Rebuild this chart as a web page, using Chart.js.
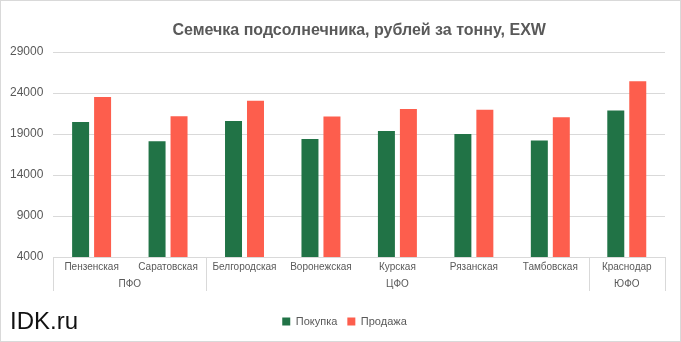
<!DOCTYPE html>
<html>
<head>
<meta charset="utf-8">
<script src="https://cdn.jsdelivr.net/npm/chart.js@4/dist/chart.umd.min.js"></script>
<style>
html,body{margin:0;padding:0;background:#fff;}
#wrap{position:relative;width:681px;height:342px;}
#brand{position:absolute;left:10px;top:307px;font:24px "Liberation Sans",Arial,sans-serif;color:#111;}
</style>
</head>
<body>
<div id="wrap"><canvas id="c"></canvas><div id="brand">IDK.ru</div></div>
<script>
const chartTitle = 'Семечка подсолнечника, рублей за тонну, EXW';
const categories = ['Пензенская','Саратовская','Белгородская','Воронежская','Курская','Рязанская','Тамбовская','Краснодар'];
const groupNames = ['ПФО','ЦФО','ЮФО'];
const groupSizes = [2,5,1];
const buyValues  = [20450,18120,20600,18400,19380,19000,18200,21880];
const sellValues = [23500,21150,23050,21120,22060,21950,21030,25440];
const yTicks = [4000,9000,14000,19000,24000,29000];

const GREY = '#595959';
const FONT = '"Liberation Sans", Arial, sans-serif';

const groupPlugin = {
  id: 'groups',
  afterLayout(chart) {
    if (chart.legend) chart.legend.left = 24;
  },
  afterDraw(chart) {
    const ctx = chart.ctx;
    const xs = chart.scales.x;
    const area = chart.chartArea;
    const n = categories.length;
    const w = (xs.right - xs.left) / n;
    ctx.save();
    ctx.fillStyle = GREY;
    ctx.font = 'bold 16px ' + FONT;
    ctx.textAlign = 'center';
    ctx.textBaseline = 'middle';
    ctx.fillText(chartTitle, (area.left + area.right) / 2, 31);

    ctx.strokeStyle = '#d9d9d9';
    ctx.lineWidth = 1;
    let idx = 0;
    const bounds = [0];
    groupSizes.forEach(s => { idx += s; bounds.push(idx); });
    bounds.forEach(b => {
      const x = Math.round(xs.left + b * w) + 0.5;
      ctx.beginPath();
      ctx.moveTo(x, area.bottom);
      ctx.lineTo(x, area.bottom + 34);
      ctx.stroke();
    });
    ctx.fillStyle = GREY;
    ctx.font = '10px ' + FONT;
    for (let g = 0; g < groupNames.length; g++) {
      const x0 = xs.left + bounds[g] * w, x1 = xs.left + bounds[g+1] * w;
      ctx.fillText(groupNames[g], (x0 + x1) / 2, area.bottom + 27);
    }
    ctx.strokeStyle = '#d9d9d9';
    ctx.strokeRect(0.5, 0.5, chart.width - 1, chart.height - 1);
    ctx.restore();
  }
};

new Chart(document.getElementById('c'), {
  type: 'bar',
  data: {
    labels: categories,
    datasets: [
      { label: 'Покупка', data: buyValues, backgroundColor: '#217346', categoryPercentage: 0.575, barPercentage: 0.773 },
      { label: 'Продажа', data: sellValues, backgroundColor: '#FD5E4D', categoryPercentage: 0.575, barPercentage: 0.773 }
    ]
  },
  options: {
    responsive: true,
    maintainAspectRatio: false,
    animation: false,
    layout: { padding: { left: 0, right: 16, top: 52, bottom: 5 } },
    plugins: {
      title: { display: false },
      legend: {
        position: 'bottom',
        labels: { color: GREY, font: { family: FONT, size: 11 }, boxWidth: 8, boxHeight: 8, padding: 10 }
      },
      tooltip: { enabled: false }
    },
    scales: {
      y: {
        min: 4000, max: 29000,
        afterBuildTicks(scale) { scale.ticks = yTicks.map(v => ({ value: v })); },
        ticks: { color: GREY, font: { family: FONT, size: 12 }, padding: 10, callback: v => String(v) },
        grid: { color: '#d9d9d9', drawTicks: false },
        border: { display: false }
      },
      x: {
        ticks: { color: GREY, font: { family: FONT, size: 10 }, padding: 4, maxRotation: 0, autoSkip: false },
        grid: { display: false, drawTicks: false },
        border: { display: true, color: '#d9d9d9' },
        afterFit(scale) { scale.height += 29; }
      }
    }
  },
  plugins: [groupPlugin]
});
</script>
</body>
</html>
